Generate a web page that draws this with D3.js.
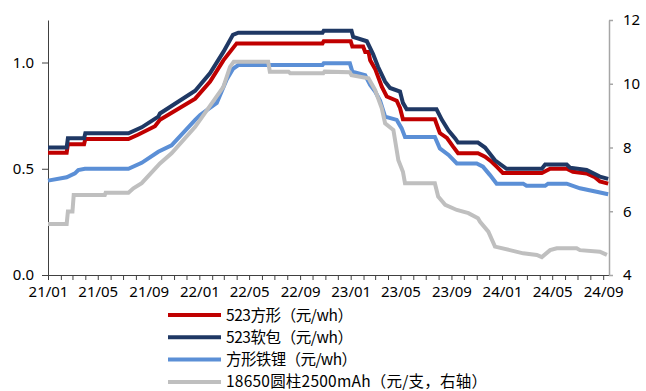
<!DOCTYPE html>
<html>
<head>
<meta charset="utf-8">
<script src="https://cdn.jsdelivr.net/npm/d3@7"></script>
<style>
  html, body { margin: 0; padding: 0; background: #fff; }
  svg { display: block; font-family: "Noto Sans CJK SC", "Noto Sans", sans-serif; }
</style>
</head>
<body>
<svg id="chart" width="646" height="391"></svg>
<script>
// Battery cell prices, weekly quotes (date, price)
const prismatic523 = [
  ["2021-01-01", 0.575], ["2021-02-15", 0.575], ["2021-02-18", 0.615], ["2021-03-29", 0.615],
  ["2021-04-01", 0.64], ["2021-07-14", 0.64], ["2021-08-06", 0.66], ["2021-09-16", 0.70],
  ["2021-09-28", 0.73], ["2021-12-22", 0.83], ["2022-01-27", 0.91], ["2022-02-28", 1.01],
  ["2022-04-01", 1.09], ["2022-10-25", 1.09], ["2022-10-28", 1.10], ["2023-01-01", 1.10],
  ["2023-01-05", 1.075], ["2023-01-31", 1.075], ["2023-02-05", 1.05], ["2023-02-13", 1.05],
  ["2023-02-17", 1.01], ["2023-03-01", 0.97], ["2023-03-17", 0.886], ["2023-03-29", 0.84],
  ["2023-04-22", 0.82], ["2023-04-30", 0.786], ["2023-05-07", 0.733], ["2023-07-23", 0.733],
  ["2023-08-04", 0.668], ["2023-08-21", 0.645], ["2023-09-05", 0.604], ["2023-09-17", 0.573],
  ["2023-11-04", 0.573], ["2023-11-21", 0.557], ["2023-12-07", 0.533], ["2023-12-19", 0.51],
  ["2024-01-03", 0.48], ["2024-04-06", 0.48], ["2024-04-26", 0.50], ["2024-06-05", 0.50],
  ["2024-06-20", 0.486], ["2024-07-23", 0.478], ["2024-08-12", 0.46], ["2024-08-24", 0.44],
  ["2024-09-13", 0.43]
];

const pouch523 = [
  ["2021-01-01", 0.60], ["2021-02-15", 0.60], ["2021-02-18", 0.643], ["2021-03-29", 0.643],
  ["2021-04-01", 0.667], ["2021-07-14", 0.667], ["2021-08-15", 0.695], ["2021-09-24", 0.745],
  ["2021-09-28", 0.76], ["2021-12-22", 0.867], ["2022-01-27", 0.95], ["2022-02-28", 1.05],
  ["2022-03-23", 1.13], ["2022-04-05", 1.14], ["2022-10-25", 1.14], ["2022-10-28", 1.15],
  ["2023-01-03", 1.15], ["2023-01-07", 1.12], ["2023-02-09", 1.10], ["2023-02-24", 1.04],
  ["2023-03-08", 0.98], ["2023-03-25", 0.91], ["2023-04-06", 0.88], ["2023-04-30", 0.863],
  ["2023-05-07", 0.81], ["2023-05-16", 0.78], ["2023-07-27", 0.78], ["2023-08-09", 0.73],
  ["2023-08-25", 0.68], ["2023-09-10", 0.643], ["2023-09-17", 0.623], ["2023-11-04", 0.623],
  ["2023-11-21", 0.60], ["2023-12-15", 0.54], ["2024-01-12", 0.50], ["2024-04-06", 0.50],
  ["2024-04-14", 0.52], ["2024-06-05", 0.52], ["2024-06-13", 0.505], ["2024-07-23", 0.494],
  ["2024-08-24", 0.463], ["2024-09-13", 0.452]
];

const prismaticLFP = [
  ["2021-01-01", 0.444], ["2021-02-15", 0.46], ["2021-03-07", 0.478], ["2021-03-15", 0.494],
  ["2021-03-31", 0.50], ["2021-07-14", 0.50], ["2021-08-15", 0.528], ["2021-09-24", 0.58],
  ["2021-10-26", 0.61], ["2021-12-22", 0.73], ["2022-01-03", 0.753], ["2022-02-12", 0.81],
  ["2022-03-08", 0.92], ["2022-03-23", 0.97], ["2022-04-05", 0.988], ["2022-10-25", 0.988],
  ["2022-10-28", 0.996], ["2022-12-30", 0.996], ["2023-01-05", 0.957], ["2023-02-05", 0.94],
  ["2023-02-17", 0.894], ["2023-03-01", 0.863], ["2023-03-13", 0.82], ["2023-03-25", 0.745],
  ["2023-04-22", 0.73], ["2023-05-04", 0.69], ["2023-05-12", 0.65], ["2023-07-23", 0.65],
  ["2023-08-04", 0.596], ["2023-08-25", 0.565], ["2023-09-14", 0.525], ["2023-11-01", 0.525],
  ["2023-11-16", 0.51], ["2023-12-03", 0.47], ["2023-12-19", 0.43], ["2024-02-21", 0.43],
  ["2024-02-29", 0.42], ["2024-04-14", 0.42], ["2024-04-21", 0.43], ["2024-06-05", 0.43],
  ["2024-07-07", 0.408], ["2024-08-16", 0.392], ["2024-09-13", 0.38]
];

// 18650 cylindrical cell, yuan per cell (right axis)
const cyl18650 = [
  ["2021-01-01", 5.6], ["2021-02-15", 5.6], ["2021-02-18", 5.99], ["2021-03-01", 5.99],
  ["2021-03-04", 6.51], ["2021-05-18", 6.51], ["2021-05-20", 6.58], ["2021-07-14", 6.58],
  ["2021-07-26", 6.72], ["2021-08-15", 6.88], ["2021-09-28", 7.5], ["2021-10-26", 7.82],
  ["2021-12-22", 8.65], ["2022-02-28", 9.9], ["2022-03-16", 10.53], ["2022-03-25", 10.69],
  ["2022-06-16", 10.69], ["2022-06-20", 10.38], ["2022-08-04", 10.38], ["2022-08-08", 10.33],
  ["2022-10-27", 10.33], ["2022-10-30", 10.38], ["2022-12-30", 10.36], ["2023-01-03", 10.27],
  ["2023-02-13", 10.17], ["2023-03-01", 9.8], ["2023-03-17", 9.23], ["2023-03-25", 8.76],
  ["2023-04-14", 8.55], ["2023-04-26", 7.6], ["2023-05-07", 7.24], ["2023-05-12", 6.88],
  ["2023-07-23", 6.88], ["2023-07-31", 6.46], ["2023-08-17", 6.2], ["2023-09-14", 6.04],
  ["2023-10-12", 5.94], ["2023-11-04", 5.78], ["2023-11-09", 5.67], ["2023-11-29", 5.36],
  ["2023-12-15", 4.89], ["2024-01-20", 4.78], ["2024-02-21", 4.68], ["2024-03-25", 4.63],
  ["2024-04-06", 4.56], ["2024-04-26", 4.78], ["2024-05-12", 4.84], ["2024-06-29", 4.84],
  ["2024-07-07", 4.78], ["2024-08-24", 4.73], ["2024-09-10", 4.63]
];

const seriesNames = ["523方形（元/wh）", "523软包（元/wh）", "方形铁锂（元/wh）", "18650圆柱2500mAh（元/支，右轴）"];
const seriesColors = ["#C00000", "#1F3864", "#5B8FD6", "#BFBFBF"];
const leftTicks = [0, 0.5, 1.0];
const rightTicks = [4, 6, 8, 10, 12];
const xStart = "2021-01-01", xEnd = "2024-09-15";

// legend label run lengths (px), so full-width punctuation keeps its width
const legendTextWidths = [127, 127, 131, 261];

const parse = d3.utcParse("%Y-%m-%d");
const svg = d3.select("#chart");

const x = d3.scaleUtc().domain([parse(xStart), parse(xEnd)]).range([48, 609]);
const yL = d3.scaleLinear().domain([0, 1.2]).range([275, 20]);
const yR = d3.scaleLinear().domain([4, 12]).range([275, 20]);

// x axis: monthly ticks, labels every fourth month
const months = d3.utcMonth.range(parse(xStart), parse(xEnd));
const fmt = d3.utcFormat("%y/%m");
const gx = svg.append("g").attr("transform", "translate(0,275)")
  .call(d3.axisBottom(x).tickValues(months).tickSize(5).tickSizeOuter(0)
    .tickFormat(d => d.getUTCMonth() % 4 === 0 ? fmt(d) : ""));
gx.select(".domain").attr("stroke", "#404040");
gx.selectAll(".tick line").attr("stroke", "#404040");
gx.selectAll(".tick text").attr("font-size", 15).attr("fill", "#000").attr("dy", "0.95em")
  .attr("font-family", "'Noto Sans', sans-serif");

// left axis
const gl = svg.append("g").attr("transform", "translate(48,0)")
  .call(d3.axisLeft(yL).tickValues(leftTicks).tickFormat(d3.format(".1f")).tickSize(6).tickSizeOuter(0).tickPadding(8));
gl.select(".domain").attr("stroke", "#404040");
gl.selectAll(".tick line").attr("stroke", "#404040");
gl.selectAll(".tick text").attr("font-size", 15).attr("fill", "#000")
  .attr("font-family", "'Noto Sans', sans-serif");

// right axis
const gr = svg.append("g").attr("transform", "translate(609,0)")
  .call(d3.axisRight(yR).tickValues(rightTicks).tickSize(4).tickSizeOuter(0).tickPadding(10));
gr.select(".domain").attr("stroke", "#A6A6A6").attr("stroke-width", 1.5);
gr.selectAll(".tick line").attr("stroke", "#A6A6A6").attr("stroke-width", 1.5);
gr.selectAll(".tick text").attr("font-size", 15).attr("fill", "#000")
  .attr("font-family", "'Noto Sans', sans-serif");

const lineL = d3.line().x(d => x(parse(d[0]))).y(d => yL(d[1]));
const lineR = d3.line().x(d => x(parse(d[0]))).y(d => yR(d[1]));

const plotted = [
  [prismatic523, lineL], [pouch523, lineL], [prismaticLFP, lineL], [cyl18650, lineR]
];
plotted.forEach(([data, gen], i) => {
  svg.append("path").datum(data)
    .attr("d", gen)
    .attr("fill", "none")
    .attr("stroke", seriesColors[i])
    .attr("stroke-width", 4)
    .attr("stroke-linejoin", "miter");
});

// legend
const legend = svg.append("g").attr("class", "legend");
seriesNames.forEach((name, i) => {
  const yy = 315 + i * 22.3;
  legend.append("line").attr("x1", 168).attr("x2", 221).attr("y1", yy).attr("y2", yy)
    .attr("stroke", seriesColors[i]).attr("stroke-width", 4);
  legend.append("text").attr("x", 226).attr("y", yy).attr("dy", "0.36em")
    .attr("font-size", 15.5).attr("fill", "#000")
    .attr("textLength", legendTextWidths[i]).attr("lengthAdjust", "spacing")
    .text(name);
});
</script>
</body>
</html>
